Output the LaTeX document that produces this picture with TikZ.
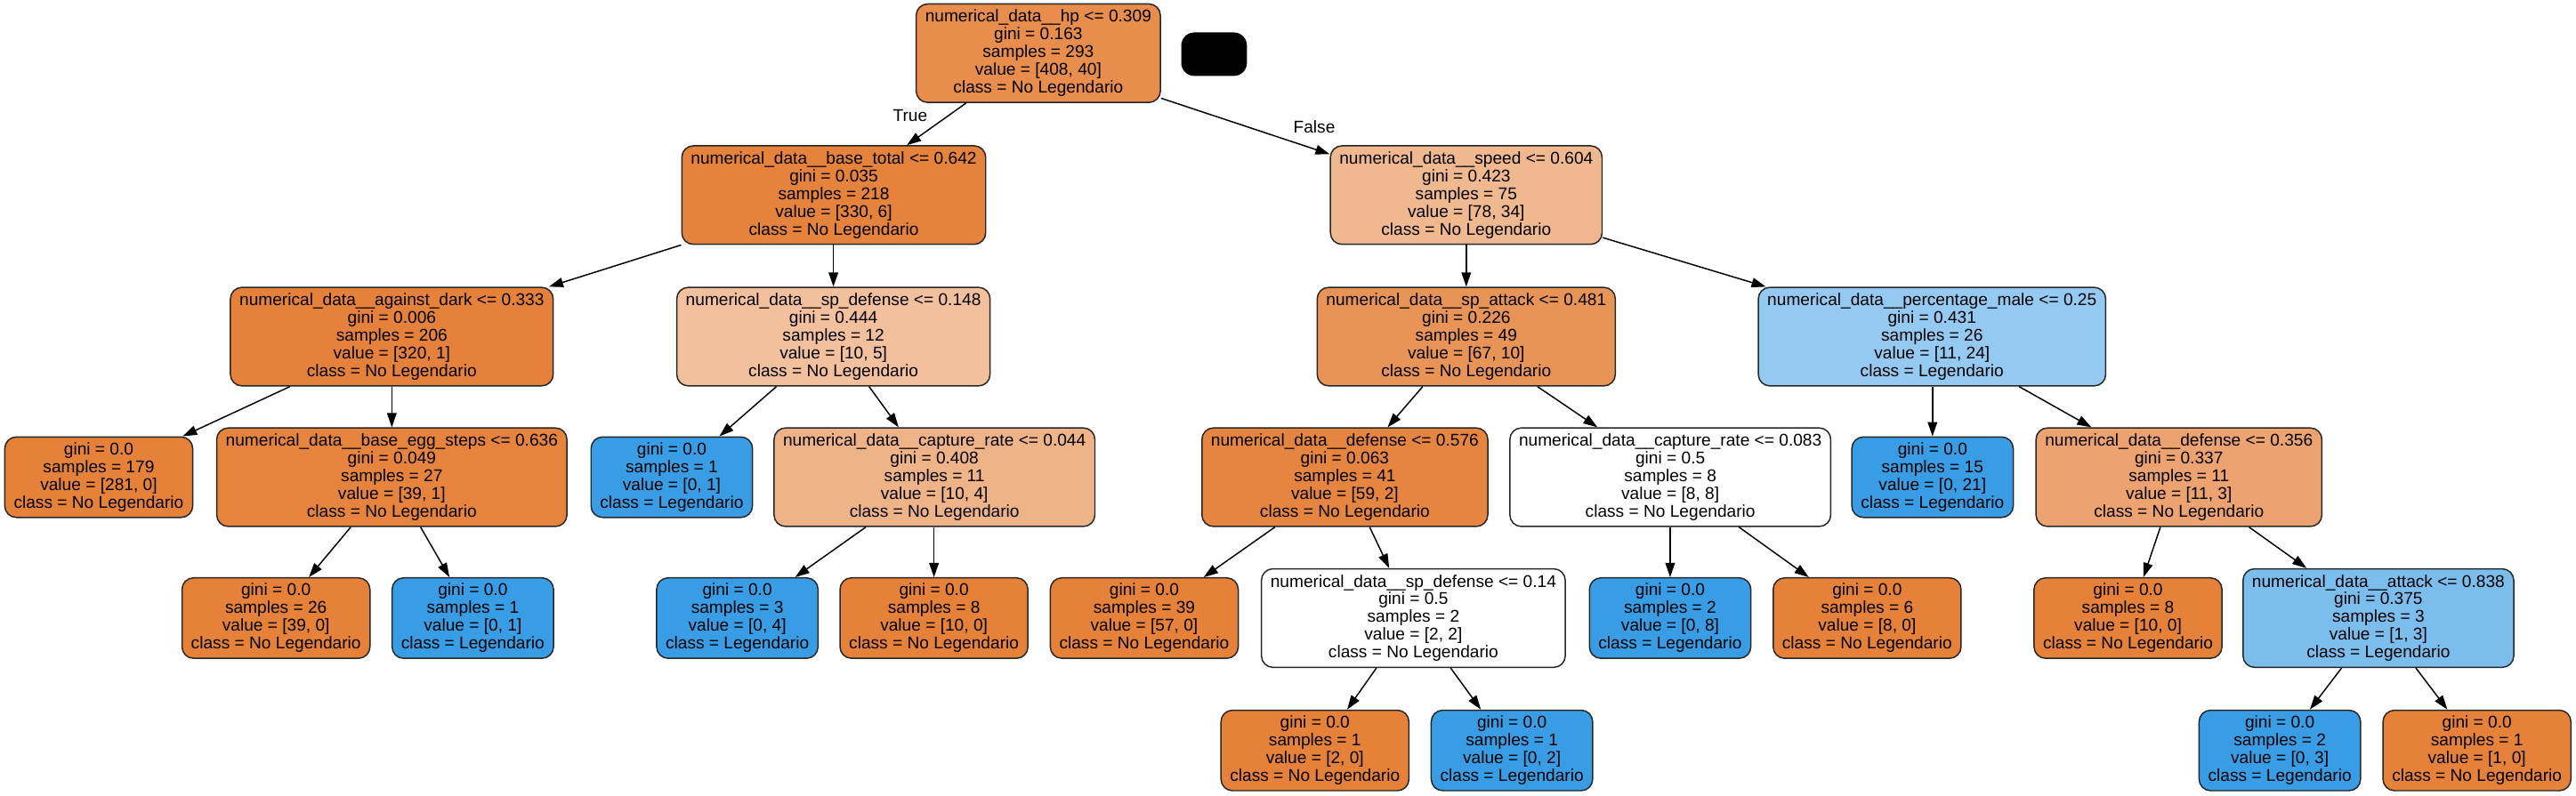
\documentclass[tikz,border=0pt]{standalone}
\usepackage{fontspec}
\setmainfont{Liberation Sans}
\usepackage{tikz}
\usetikzlibrary{arrows.meta}
\definecolor{noleg}{HTML}{E58139}
\definecolor{leg}{HTML}{399DE5}
\tikzstyle{dnode}=[draw=black!85, line width=0.8pt, rounded corners=7pt, inner xsep=5.5pt, inner ysep=0pt, align=center, font=\fontsize{10.36pt}{10.8pt}\selectfont]
\tikzstyle{split}=[dnode, minimum height=60pt]
\tikzstyle{leaf}=[dnode, minimum height=49pt]
\tikzstyle{edge}=[-{Triangle[length=8.7pt,width=5.8pt]}, line width=0.8pt]
\tikzstyle{elabel}=[inner sep=0pt, font=\fontsize{10.36pt}{10.8pt}\selectfont]

\begin{document}
\begin{tikzpicture}[x=1pt, y=-1pt]
        \useasboundingbox (0, 0) rectangle (1568, 484.75);
        \node[split, fill=noleg!90.2] (root) at (632, 32.4) {numerical\_data\_\_hp <= 0.309\\gini = 0.163\\samples = 293\\value = [408, 40]\\class = No Legendario};
        \node[fill=black, rounded corners=8pt, minimum width=40pt, minimum height=26.5pt, inner sep=0pt] (hidden) at (739, 33) {};
        \node[split, fill=noleg!98.2] (bt) at (507.5, 118.8) {numerical\_data\_\_base\_total <= 0.642\\gini = 0.035\\samples = 218\\value = [330, 6]\\class = No Legendario};
        \node[split, fill=noleg!56.4] (speed) at (892.5, 118.8) {numerical\_data\_\_speed <= 0.604\\gini = 0.423\\samples = 75\\value = [78, 34]\\class = No Legendario};
        \node[elabel] (lbltrue) at (554, 70.4) {True};
        \node[elabel] (lblfalse) at (800, 77) {False};

        \node[split, fill=noleg!99.7] (ad) at (238.5, 205) {numerical\_data\_\_against\_dark <= 0.333\\gini = 0.006\\samples = 206\\value = [320, 1]\\class = No Legendario};
        \node[split, fill=noleg!50] (spd) at (507.3, 205) {numerical\_data\_\_sp\_defense <= 0.148\\gini = 0.444\\samples = 12\\value = [10, 5]\\class = No Legendario};
        \node[split, fill=noleg!85.1] (spa) at (892.5, 205) {numerical\_data\_\_sp\_attack <= 0.481\\gini = 0.226\\samples = 49\\value = [67, 10]\\class = No Legendario};
        \node[split, fill=leg!54.2] (pm) at (1176, 205) {numerical\_data\_\_percentage\_male <= 0.25\\gini = 0.431\\samples = 26\\value = [11, 24]\\class = Legendario};

        \node[leaf, fill=noleg] (lf1) at (60.1, 290.6) {gini = 0.0\\samples = 179\\value = [281, 0]\\class = No Legendario};
        \node[split, fill=noleg!97.4] (bes) at (238.5, 290.6) {numerical\_data\_\_base\_egg\_steps <= 0.636\\gini = 0.049\\samples = 27\\value = [39, 1]\\class = No Legendario};
        \node[leaf, fill=leg] (lfB1) at (408.9, 290.6) {gini = 0.0\\samples = 1\\value = [0, 1]\\class = Legendario};
        \node[split, fill=noleg!60] (cr44) at (568.8, 290.6) {numerical\_data\_\_capture\_rate <= 0.044\\gini = 0.408\\samples = 11\\value = [10, 4]\\class = No Legendario};
        \node[split, fill=noleg!96.6] (def576) at (818.6, 290.6) {numerical\_data\_\_defense <= 0.576\\gini = 0.063\\samples = 41\\value = [59, 2]\\class = No Legendario};
        \node[split, fill=white] (cr83) at (1016.7, 290.6) {numerical\_data\_\_capture\_rate <= 0.083\\gini = 0.5\\samples = 8\\value = [8, 8]\\class = No Legendario};
        \node[leaf, fill=leg] (lfB15) at (1176.3, 290.6) {gini = 0.0\\samples = 15\\value = [0, 21]\\class = Legendario};
        \node[split, fill=noleg!72.7] (def356) at (1326.3, 290.6) {numerical\_data\_\_defense <= 0.356\\gini = 0.337\\samples = 11\\value = [11, 3]\\class = No Legendario};

        \node[leaf, fill=noleg] (lf26) at (168, 376.4) {gini = 0.0\\samples = 26\\value = [39, 0]\\class = No Legendario};
        \node[leaf, fill=leg] (lfB1b) at (287.8, 376.4) {gini = 0.0\\samples = 1\\value = [0, 1]\\class = Legendario};
        \node[leaf, fill=leg] (lfB3) at (448.8, 376.4) {gini = 0.0\\samples = 3\\value = [0, 4]\\class = Legendario};
        \node[leaf, fill=noleg] (lf8) at (568.5, 376.4) {gini = 0.0\\samples = 8\\value = [10, 0]\\class = No Legendario};
        \node[leaf, fill=noleg] (lf39) at (696.5, 376.4) {gini = 0.0\\samples = 39\\value = [57, 0]\\class = No Legendario};
        \node[split, fill=white] (spd14) at (860.3, 376.4) {numerical\_data\_\_sp\_defense <= 0.14\\gini = 0.5\\samples = 2\\value = [2, 2]\\class = No Legendario};
        \node[leaf, fill=leg] (lfB2) at (1016.6, 376.4) {gini = 0.0\\samples = 2\\value = [0, 8]\\class = Legendario};
        \node[leaf, fill=noleg] (lf6) at (1136.5, 376.4) {gini = 0.0\\samples = 6\\value = [8, 0]\\class = No Legendario};
        \node[leaf, fill=noleg] (lf8b) at (1295.3, 376.4) {gini = 0.0\\samples = 8\\value = [10, 0]\\class = No Legendario};
        \node[split, fill=leg!66.7] (att) at (1447.7, 376.4) {numerical\_data\_\_attack <= 0.838\\gini = 0.375\\samples = 3\\value = [1, 3]\\class = Legendario};

        \node[leaf, fill=noleg] (lf20) at (800.4, 457) {gini = 0.0\\samples = 1\\value = [2, 0]\\class = No Legendario};
        \node[leaf, fill=leg] (lfB02) at (920.3, 457) {gini = 0.0\\samples = 1\\value = [0, 2]\\class = Legendario};
        \node[leaf, fill=leg] (lfB03) at (1387.7, 457) {gini = 0.0\\samples = 2\\value = [0, 3]\\class = Legendario};
        \node[leaf, fill=noleg] (lf10) at (1507.7, 457) {gini = 0.0\\samples = 1\\value = [1, 0]\\class = No Legendario};

        \draw[edge] ([xshift=-44]root.south) -- ([xshift=44.5]bt.north);
        \draw[edge] ([yshift=3]root.south east) -- ([yshift=-5.5]speed.north west);
        \draw[edge] (bt.south west) -- ([xshift=-3]ad.north east);
        \draw[edge] (spd.north |- bt.south) -- (spd.north);
        \draw[edge] (spa.north |- speed.south) -- (spa.north);
        \draw[edge] ([yshift=4.5]speed.south east) -- ([xshift=5]pm.north west);
        \draw[edge] ([xshift=-62]ad.south) -- ([xshift=-6.5]lf1.north east);
        \draw[edge] (bes.north |- ad.south) -- (bes.north);
        \draw[edge] ([xshift=-34.7]spd.south) -- ([xshift=29]lfB1.north);
        \draw[edge] ([xshift=21.7]spd.south) -- ([xshift=-21.8]cr44.north);
        \draw[edge] ([xshift=-26.5]spa.south) -- ([xshift=26]def576.north);
        \draw[edge] ([xshift=43.3]spa.south) -- ([xshift=-44.3]cr83.north);
        \draw[edge] (lfB15.north |- pm.south) -- (lfB15.north);
        \draw[edge] ([xshift=53]pm.south) -- ([xshift=-53.3]def356.north);
        \draw[edge] ([xshift=-25]bes.south) -- ([xshift=20]lf26.north);
        \draw[edge] ([xshift=17.5]bes.south) -- ([xshift=-14.2]lfB1b.north);
        \draw[edge] ([xshift=-41.8]cr44.south) -- ([xshift=35.2]lfB3.north);
        \draw[edge] (lf8.north |- cr44.south) -- (lf8.north);
        \draw[edge] ([xshift=-42.6]def576.south) -- ([xshift=36.2]lf39.north);
        \draw[edge] ([xshift=15.1]def576.south) -- ([xshift=-14.7]spd14.north);
        \draw[edge] (lfB2.north |- cr83.south) -- (lfB2.north);
        \draw[edge] ([xshift=41.8]cr83.south) -- ([xshift=-35.5]lf6.north);
        \draw[edge] ([xshift=-11.3]def356.south) -- ([xshift=9.4]lf8b.north);
        \draw[edge] ([xshift=42.7]def356.south) -- ([xshift=-43.7]att.north);
        \draw[edge] ([xshift=-22.5]spd14.south) -- ([xshift=19.6]lf20.north);
        \draw[edge] ([xshift=22.7]spd14.south) -- ([xshift=-18.9]lfB02.north);
        \draw[edge] ([xshift=-22.4]att.south) -- ([xshift=18.3]lfB03.north);
        \draw[edge] ([xshift=22.8]att.south) -- ([xshift=-18]lf10.north);
    \end{tikzpicture}
\end{document}
